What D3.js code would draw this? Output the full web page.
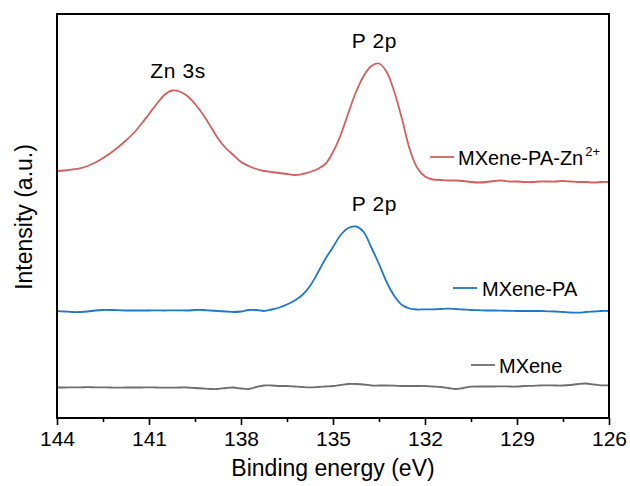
<!DOCTYPE html>
<html>
<head>
<meta charset="utf-8">
<script src="https://cdn.jsdelivr.net/npm/d3@7"></script>
<style>
  html, body { margin: 0; padding: 0; background: #fff; }
  svg { display: block; font-family: "Liberation Sans", Arial, sans-serif; }
</style>
</head>
<body>
<svg id="chart" width="630" height="486"></svg>
<script>
// Binding energy grid (eV), high to low as on the XPS axis
const energy = [
  144, 143.75, 143.5, 143.25, 143, 142.75, 142.5, 142.25, 142, 141.75,
  141.5, 141.25, 141, 140.75, 140.5, 140.25, 140, 139.75, 139.5, 139.25,
  139, 138.75, 138.5, 138.25, 138, 137.75, 137.5, 137.25, 137, 136.75,
  136.5, 136.25, 136, 135.75, 135.5, 135.25, 135, 134.75, 134.5, 134.25,
  134, 133.75, 133.5, 133.25, 133, 132.75, 132.5, 132.25, 132, 131.75,
  131.5, 131.25, 131, 130.75, 130.5, 130.25, 130, 129.75, 129.5, 129.25,
  129, 128.75, 128.5, 128.25, 128, 127.75, 127.5, 127.25, 127, 126.75,
  126.5, 126.25, 126
];

// Stacked intensities (a.u.), each spectrum already offset vertically
const mxenePaZn = [
  247, 247.5, 248.5, 249.7, 252, 255.5, 260, 265, 271, 277.5,
  285, 294, 304, 314, 323, 327.5, 326.5, 322, 314, 304,
  292, 279.5, 270, 263, 256, 252, 249, 247, 246, 245,
  244, 243, 244, 246, 249, 254, 266, 283, 305, 326,
  342, 352, 354.5, 346, 326, 299, 269, 250, 241.5, 238.5,
  238, 237.5, 237.5, 237, 236, 235.5, 236, 237, 237.5, 236.5,
  236.5, 236, 236, 236.5, 236.5, 236.5, 237, 236.5, 236, 236,
  235.5, 236, 236
];
const mxenePa = [
  107, 106.5, 106, 106, 106.5, 107.5, 108, 108, 107.8, 107.5,
  107.5, 107.5, 107.5, 107.7, 107.5, 107.7, 107.7, 107.5, 108, 108,
  107.5, 107, 106.5, 106, 106.5, 108, 108, 107, 108.5, 110.5,
  113.5, 117.5, 123, 132, 145, 159, 171, 183, 190, 191.5,
  186, 170.5, 154, 136, 122, 113, 109.5, 108.5, 108.7, 108.7,
  109, 109.3, 109, 108.5, 108, 107.8, 107.5, 107.5, 107.3, 107.2,
  107, 107, 107, 107, 106.7, 106.5, 106, 105.5, 105.3, 106,
  106.5, 107, 107
];
const mxene = [
  30.5, 30.5, 30.7, 30.7, 30.8, 30.7, 30.7, 30.5, 30.3, 30.5,
  30.5, 30.5, 30.7, 30.5, 30.3, 30.3, 30.5, 30.5, 30, 29.5,
  29, 29, 30, 30.5, 29.5, 29, 31, 32.5, 32.5, 32,
  32, 31.5, 31, 30.7, 31, 31.5, 32, 33, 34, 34,
  33.5, 32.5, 32.5, 32.5, 32.3, 32, 32, 32, 32, 31.5,
  31, 30, 29, 30, 31.3, 31.5, 31.5, 31.5, 31.7, 31.5,
  31.5, 32, 32.2, 32.5, 32.7, 32.5, 32.5, 33, 34, 34.5,
  33.5, 32.7, 32.7
];

const xTicks = [144, 141, 138, 135, 132, 129, 126];
const xMinorTicks = [142.5, 139.5, 136.5, 133.5, 130.5, 127.5];

const seriesNames = ["MXene-PA-Zn", "MXene-PA", "MXene"];
const seriesColors = ["#d35f5f", "#1f78c8", "#6e6e6e"];

// Peak annotations: label, energy, intensity of the label baseline
const peakLabels = ["Zn 3s", "P 2p", "P 2p"];
const peakEnergy = [140.05, 133.65, 133.65];
const peakLevel = [340, 370, 207];

const svg = d3.select("#chart");
const margin = { left: 57, right: 21, top: 14, bottom: 68 };
const W = 630, H = 486;

const x = d3.scaleLinear().domain([144, 126]).range([margin.left, W - margin.right]);
const y = d3.scaleLinear().domain([0, 404]).range([H - margin.bottom, margin.top]);

const line = d3.line()
  .x(d => x(d[0]))
  .y(d => y(d[1]))
  .curve(d3.curveCatmullRom.alpha(0.5));

const allSeries = [mxenePaZn, mxenePa, mxene];
allSeries.forEach((vals, i) => {
  svg.append("path")
    .datum(energy.map((e, k) => [e, vals[k]]))
    .attr("fill", "none")
    .attr("stroke", seriesColors[i])
    .attr("stroke-width", 1.8)
    .attr("stroke-linejoin", "round")
    .attr("d", line);
});

// Frame
svg.append("rect")
  .attr("x", margin.left).attr("y", margin.top)
  .attr("width", W - margin.left - margin.right)
  .attr("height", H - margin.top - margin.bottom)
  .attr("fill", "none").attr("stroke", "#000").attr("stroke-width", 2);

// Bottom axis
const xAxis = d3.axisBottom(x).tickValues(xTicks).tickSize(7).tickPadding(6)
  .tickFormat(d3.format("d"));
const gx = svg.append("g")
  .attr("transform", `translate(0,${H - margin.bottom})`)
  .call(xAxis);
gx.select(".domain").remove();
gx.selectAll(".tick line").attr("stroke", "#000").attr("stroke-width", 1.6);
gx.selectAll(".tick text")
  .attr("font-size", 21).attr("fill", "#000")
  .attr("font-family", "'Liberation Sans', Arial, sans-serif");

const gxm = svg.append("g")
  .attr("transform", `translate(0,${H - margin.bottom})`)
  .call(d3.axisBottom(x).tickValues(xMinorTicks).tickSize(4).tickFormat(""));
gxm.select(".domain").remove();
gxm.selectAll(".tick line").attr("stroke", "#000").attr("stroke-width", 1.6);

// Axis titles
svg.append("text")
  .attr("x", (x(144) + x(126)) / 2).attr("y", 476)
  .attr("text-anchor", "middle").attr("font-size", 23).attr("fill", "#000")
  .text("Binding energy (eV)");

svg.append("text")
  .attr("transform", "translate(32,217) rotate(-90)")
  .attr("text-anchor", "middle").attr("font-size", 23).attr("fill", "#000")
  .text("Intensity (a.u.)");

// Peak labels
peakLabels.forEach((t, i) => {
  svg.append("text")
    .attr("x", x(peakEnergy[i])).attr("y", y(peakLevel[i]))
    .attr("text-anchor", "middle").attr("font-size", 21)
    .attr("letter-spacing", 0.6)
    .attr("fill", "#000").text(t);
});

// Legend entries, each placed beside its own spectrum
const legendPos = [
  { lx: 430, ly: 157, tx: 458, ty: 165 },
  { lx: 453, ly: 288, tx: 482, ty: 296 },
  { lx: 471, ly: 365, tx: 499, ty: 373 }
];
seriesNames.forEach((name, i) => {
  const p = legendPos[i];
  svg.append("line")
    .attr("x1", p.lx).attr("x2", p.lx + 24)
    .attr("y1", p.ly).attr("y2", p.ly)
    .attr("stroke", seriesColors[i]).attr("stroke-width", 1.8);
  const t = svg.append("text")
    .attr("x", p.tx).attr("y", p.ty)
    .attr("font-size", 20).attr("fill", "#000")
    .text(name);
  if (i === 0) {
    t.append("tspan")
      .attr("dx", 2).attr("dy", -9)
      .attr("font-size", 13)
      .text("2+");
  }
});
</script>
</body>
</html>
